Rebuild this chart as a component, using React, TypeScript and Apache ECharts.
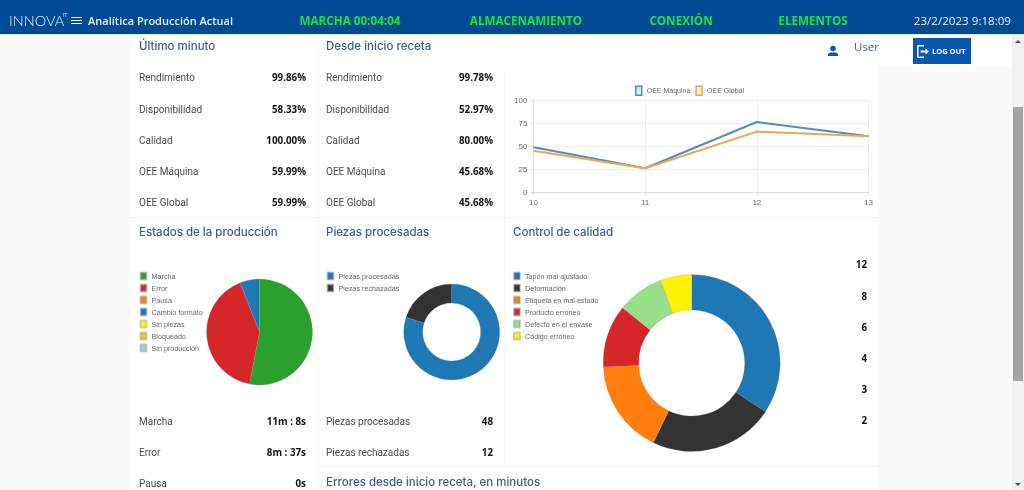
import React, { useEffect, useRef } from "react";
import * as echarts from "echarts";

const lastMinuteLabels = ["Rendimiento", "Disponibilidad", "Calidad", "OEE Máquina", "OEE Global"];
const lastMinuteValues = ["99.86%", "58.33%", "100.00%", "59.99%", "59.99%"];
const recipeValues = ["99.78%", "52.97%", "80.00%", "45.68%", "45.68%"];
const lineCategories = ["10", "11", "12", "13"];
const oeeMachine = [49, 26, 76.5, 61];
const oeeGlobal = [45, 26, 66, 61];
const stateNames = ["Marcha", "Error", "Pausa", "Cambio formato", "Sin piezas", "Bloqueado", "Sin producción"];
const stateSeconds = [668, 517, 0, 75, 0, 0, 0];
const stateColors = ["#2ca02c", "#d62728", "#ff7f0e", "#1f77b4", "#ffff00", "#f5c211", "#aec7e8"];
const stateRows = [["Marcha", "11m : 8s"], ["Error", "8m : 37s"], ["Pausa", "0s"]];
const pieceNames = ["Piezas procesadas", "Piezas rechazadas"];
const pieceValues = [48, 12];
const pieceColors = ["#1f77b4", "#333333"];
const qualityNames = ["Tapón mal ajustado", "Deformación", "Etiqueta en mal estado", "Producto erróneo", "Defecto en el envase", "Código erróneo"];
const qualityValues = [12, 8, 6, 4, 3, 2];
const qualityColors = ["#1f77b4", "#333333", "#ff7f0e", "#d62728", "#98df8a", "#fff200"];
const headerItems = [["MARCHA 00:04:04", 350], ["ALMACENAMIENTO", 526], ["CONEXIÓN", 681], ["ELEMENTOS", 813]] as const;

const BODY = '"Open Sans", sans-serif';
const HEAD = '"Inter", "Open Sans", sans-serif';
const CHART = '"Liberation Sans", Arial, sans-serif';
const TITLE_COLOR = "#3b5c8f";

echarts.graphic.registerShape(
  "logoutIcon",
  echarts.graphic.extendPath(
    "M7 0H1.5A1.5 1.5 0 0 0 0 1.5V11.5A1.5 1.5 0 0 0 1.5 13H7V11.5H1.5V1.5H7ZM8.5 3.5V5.5H3.5V7.5H8.5V9.5L12 6.5Z",
    {}
  )
);

const text = (x: number, y: number, t: string, font: string, fill: string, align = "left") => ({
  type: "text",
  x,
  y,
  silent: true,
  style: { text: t, font, fill, textAlign: align, textVerticalAlign: "middle" },
});
const rect = (x: number, y: number, width: number, height: number, fill: string) => ({
  type: "rect",
  silent: true,
  shape: { x, y, width, height },
  style: { fill },
});
const label = (x: number, y: number, t: string) => text(x, y, t, `10px Roboto, ${BODY}`, "#4a4a4a");
const value = (x: number, y: number, t: string) => text(x, y, t, `bold 9.8px ${BODY}`, "#111111", "right");
const title = (x: number, y: number, t: string) => text(x, y, t, `500 11.5px ${HEAD}`, TITLE_COLOR);

const rowY = [77, 109, 140, 171, 202];
const bottomY = [421, 452, 483];
const qualityY = [264, 296, 327, 358, 389, 420];

function buildGraphic() {
  const els: any[] = [
    rect(0, 0, 1024, 490, "#fafafa"),
    rect(130, 34, 748, 456, "#ffffff"),
    rect(317, 34, 1, 183, "#f6f6f6"),
    rect(504, 66, 1, 400, "#f6f6f6"),
    rect(317, 217, 1, 273, "#f6f6f6"),
    rect(130, 217, 748, 1, "#f6f6f6"),
    rect(318, 466, 560, 1, "#f6f6f6"),
    rect(878, 34, 134, 32, "#ffffff"),
    rect(0, 0, 1024, 34, "#004a94"),
    rect(0, 34, 1024, 1, "#e4e8ee"),
    text(9, 20, "INNOVA", `300 14.5px Lato, ${BODY}`, "#e8eef6"),
    text(63, 15, "IT", `5px ${BODY}`, "#e8eef6"),
    rect(71, 17, 11, 1, "#ffffff"),
    rect(71, 20, 11, 1, "#ffffff"),
    rect(71, 23, 11, 1, "#ffffff"),
    text(88, 20, "Analítica Producción Actual", `600 11px ${BODY}`, "#e8eef6"),
    text(1011, 20, "23/2/2023 9:18:09", `11.6px ${BODY}`, "#e8eef6", "right"),
    text(854, 46, "User", `11.5px ${BODY}`, "#3f5f8f"),
    { type: "circle", silent: true, shape: { cx: 833, cy: 48.5, r: 2.8 }, style: { fill: "#0a57b0" } },
    { type: "polygon", silent: true, shape: { points: [[828, 56], [828, 54], [830, 52.5], [836, 52.5], [838, 54], [838, 56]] }, style: { fill: "#0a57b0" } },
    rect(913, 38, 58, 26, "#0a57b0"),
    { type: "logoutIcon", silent: true, x: 917, y: 45, style: { fill: "#ffffff" } },
    text(932, 51, "LOG OUT", `bold 7.5px ${BODY}`, "#ffffff"),
    rect(1012, 35, 12, 455, "#f1f1f1"),
    rect(1013, 107, 10, 274, "#a3a3a3"),
    { type: "polygon", silent: true, shape: { points: [[1015, 43], [1021, 43], [1018, 40]] }, style: { fill: "#505050" } },
    { type: "polygon", silent: true, shape: { points: [[1015, 483], [1021, 483], [1018, 486]] }, style: { fill: "#505050" } },
    title(139, 45.5, "Último minuto"),
    title(326, 45.5, "Desde inicio receta"),
    title(139, 232, "Estados de la producción"),
    title(326, 232, "Piezas procesadas"),
    title(513, 232, "Control de calidad"),
    title(326, 482, "Errores desde inicio receta, en minutos"),
  ];
  headerItems.forEach(([t, x]) => els.push(text(x, 20, t, `bold 11.7px ${BODY}`, "#14e63c", "center")));
  lastMinuteLabels.forEach((t, i) => {
    els.push(label(139, rowY[i], t), value(306, rowY[i], lastMinuteValues[i]));
    els.push(label(326, rowY[i], t), value(493, rowY[i], recipeValues[i]));
  });
  stateRows.forEach(([n, v], i) => els.push(label(139, bottomY[i], n), value(306, bottomY[i], v)));
  pieceNames.forEach((n, i) => els.push(label(326, bottomY[i], n), value(493, bottomY[i], String(pieceValues[i]))));
  qualityValues.forEach((v, i) => els.push(value(867, qualityY[i], String(v))));
  return els;
}

const pieLegend = (names: string[], left: number) => ({
  type: "plain",
  orient: "vertical",
  left,
  top: 271.5,
  icon: "rect",
  itemWidth: 6,
  itemHeight: 7,
  itemGap: 3,
  padding: 0,
  selectedMode: false,
  data: names,
  textStyle: { fontSize: 7.2, lineHeight: 7, color: "#666666", fontFamily: CHART },
});

const pie = (name: string, names: string[], vals: number[], colors: string[], center: number[], radius: any) => ({
  type: "pie",
  name,
  center,
  radius,
  startAngle: 90,
  silent: true,
  label: { show: false },
  labelLine: { show: false },
  itemStyle: { borderColor: "rgba(150,150,150,0.45)", borderWidth: 0.5 },
  data: names.map((n, i) => ({ name: n, value: vals[i], itemStyle: { color: colors[i] } })),
});

export default function App() {
  const ref = useRef<HTMLDivElement>(null);
  useEffect(() => {
    document.body.style.margin = "0";
    const chart = echarts.init(ref.current!, undefined, { renderer: "svg" });
    chart.setOption({
      animation: false,
      graphic: { elements: buildGraphic() },
      legend: [
        {
          top: 85.5,
          left: 635,
          icon: "rect",
          itemWidth: 6,
          itemHeight: 9,
          itemGap: 5,
          padding: 0,
          selectedMode: false,
          textStyle: { fontSize: 7, lineHeight: 9, color: "#666666", fontFamily: CHART },
          data: [
            { name: "OEE Máquina", itemStyle: { color: "#d9e8f5", borderColor: "#4f8fc0", borderWidth: 1.5 } },
            { name: "OEE Global", itemStyle: { color: "#fcebd6", borderColor: "#efa64c", borderWidth: 1.5 } },
          ],
        },
        pieLegend(stateNames, 139.5),
        pieLegend(pieceNames, 326.5),
        pieLegend(qualityNames, 513),
      ],
      grid: { left: 533.5, top: 100.5, width: 335, height: 91.5, containLabel: false },
      xAxis: {
        type: "category",
        boundaryGap: false,
        data: lineCategories,
        axisLine: { lineStyle: { color: "#dddddd" } },
        axisTick: { show: true, length: 3, lineStyle: { color: "#dddddd" } },
        axisLabel: { fontSize: 8, color: "#666666", fontFamily: CHART, margin: 6 },
        splitLine: { show: true, lineStyle: { color: "#eeeeee" } },
      },
      yAxis: {
        type: "value",
        min: 0,
        max: 100,
        interval: 25,
        axisLine: { show: true, lineStyle: { color: "#dddddd" } },
        axisTick: { show: true, length: 3, lineStyle: { color: "#dddddd" } },
        axisLabel: { fontSize: 8, color: "#666666", fontFamily: CHART, margin: 6 },
        splitLine: { lineStyle: { color: "#eeeeee" } },
      },
      series: [
        { type: "line", name: "OEE Máquina", data: oeeMachine, showSymbol: false, silent: true, lineStyle: { color: "#4f8fc0", width: 2 }, itemStyle: { color: "#4f8fc0" } },
        { type: "line", name: "OEE Global", data: oeeGlobal, showSymbol: false, silent: true, lineStyle: { color: "#efa64c", width: 2 }, itemStyle: { color: "#efa64c" } },
        pie("Estados", stateNames, stateSeconds, stateColors, [259.5, 332], [0, 53]),
        pie("Piezas", pieceNames, pieceValues, pieceColors, [451.7, 332], [29, 48]),
        pie("Calidad", qualityNames, qualityValues, qualityColors, [691.7, 363], [53, 88.5]),
      ],
    });
    return () => chart.dispose();
  }, []);
  return <div ref={ref} style={{ position: "fixed", left: 0, top: 0, width: 1024, height: 490, overflow: "hidden" }} />;
}
